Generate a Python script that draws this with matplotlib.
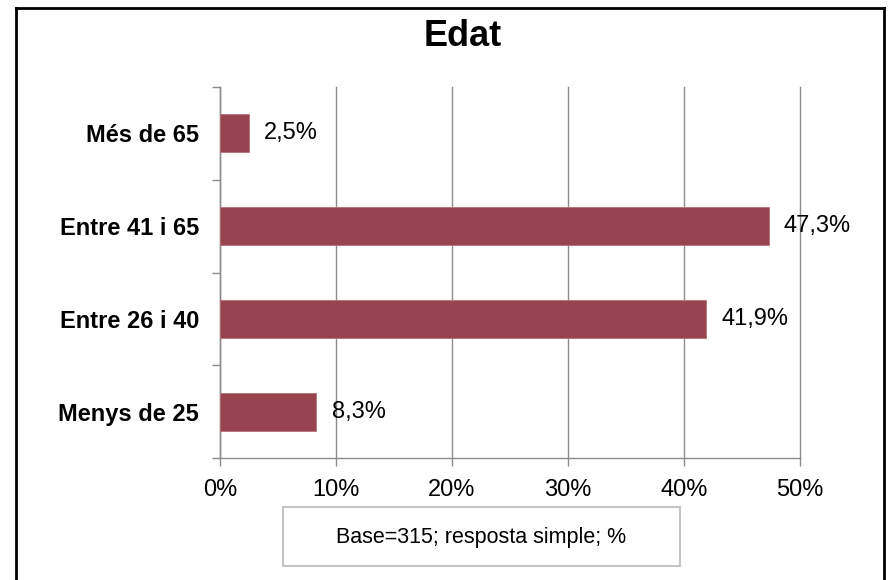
import matplotlib
matplotlib.use("Agg")
import matplotlib.pyplot as plt
from matplotlib.lines import Line2D
from matplotlib.patches import Rectangle
from matplotlib.ticker import FixedLocator

categories = ["Menys de 25", "Entre 26 i 40", "Entre 41 i 65", "Més de 65"]
values = [8.3, 41.9, 47.3, 2.5]
value_labels = ["8,3%", "41,9%", "47,3%", "2,5%"]
xticks = [0, 10, 20, 30, 40, 50]
xtick_labels = ["0%", "10%", "20%", "30%", "40%", "50%"]
title = "Edat"
note = "Base=315; resposta simple; %"

plt.rcParams['font.family'] = ['Liberation Sans', 'DejaVu Sans']

W, H = 893, 580
fig = plt.figure(figsize=(W / 100, H / 100), dpi=100)

def fx(px):
    return px / W

def fy(py):
    return 1 - py / H

ax = fig.add_axes([fx(220), fy(458), fx(800) - fx(220), fy(87) - fy(458)])

ypos = list(range(len(categories)))
ax.barh(ypos, values, height=0.41, color='#974350', edgecolor='#b8707a', linewidth=0.6, zorder=3)

ax.set_xlim(0, 50)
ax.set_ylim(-0.5, len(categories) - 0.5)

ax.set_xticks(xticks)
ax.set_xticklabels(xtick_labels, fontsize=17)
ax.tick_params(axis='x', length=6, width=1, color='#8c8c8c', pad=9)

ax.set_yticks(ypos)
ax.set_yticklabels(categories, fontsize=17, fontweight='bold')
ax.tick_params(axis='y', which='major', length=0, pad=15)
ax.yaxis.set_minor_locator(FixedLocator([i - 0.5 for i in range(len(categories) + 1)]))
ax.tick_params(axis='y', which='minor', length=6, width=1, color='#8c8c8c')

ax.grid(axis='x', color='#8c8c8c', linewidth=1, zorder=0)
for gl in ax.get_xgridlines():
    gl.set_clip_on(False)
ax.set_axisbelow(True)
for s in ['top', 'right']:
    ax.spines[s].set_visible(False)
for s in ['left', 'bottom']:
    ax.spines[s].set_color('#8c8c8c')
    ax.spines[s].set_linewidth(1)

for y, v, lab in zip(ypos, values, value_labels):
    ax.annotate(lab, xy=(v, y), xytext=(11, 0), textcoords='offset points',
                va='center', ha='left', fontsize=17, zorder=4)

fig.text(fx(463), fy(36), title, ha='center', va='center', fontsize=26, fontweight='bold')

# note box
fig.patches.append(Rectangle((fx(283), fy(566)), fx(680) - fx(283), fy(507) - fy(566),
                             transform=fig.transFigure, facecolor='white',
                             edgecolor='#c4c4c4', linewidth=1.5))
fig.text(fx(481), fy(537), note, ha='center', va='center', fontsize=15.5)

# outer border
border_kw = dict(transform=fig.transFigure, color='black', linewidth=2)
fig.lines.append(Line2D([fx(16), fx(16)], [fy(8), fy(600)], **border_kw))
fig.lines.append(Line2D([fx(16), fx(884)], [fy(8), fy(8)], **border_kw))
fig.lines.append(Line2D([fx(884), fx(884)], [fy(8), fy(600)], **border_kw))

fig.savefig("out.png", dpi=100)
